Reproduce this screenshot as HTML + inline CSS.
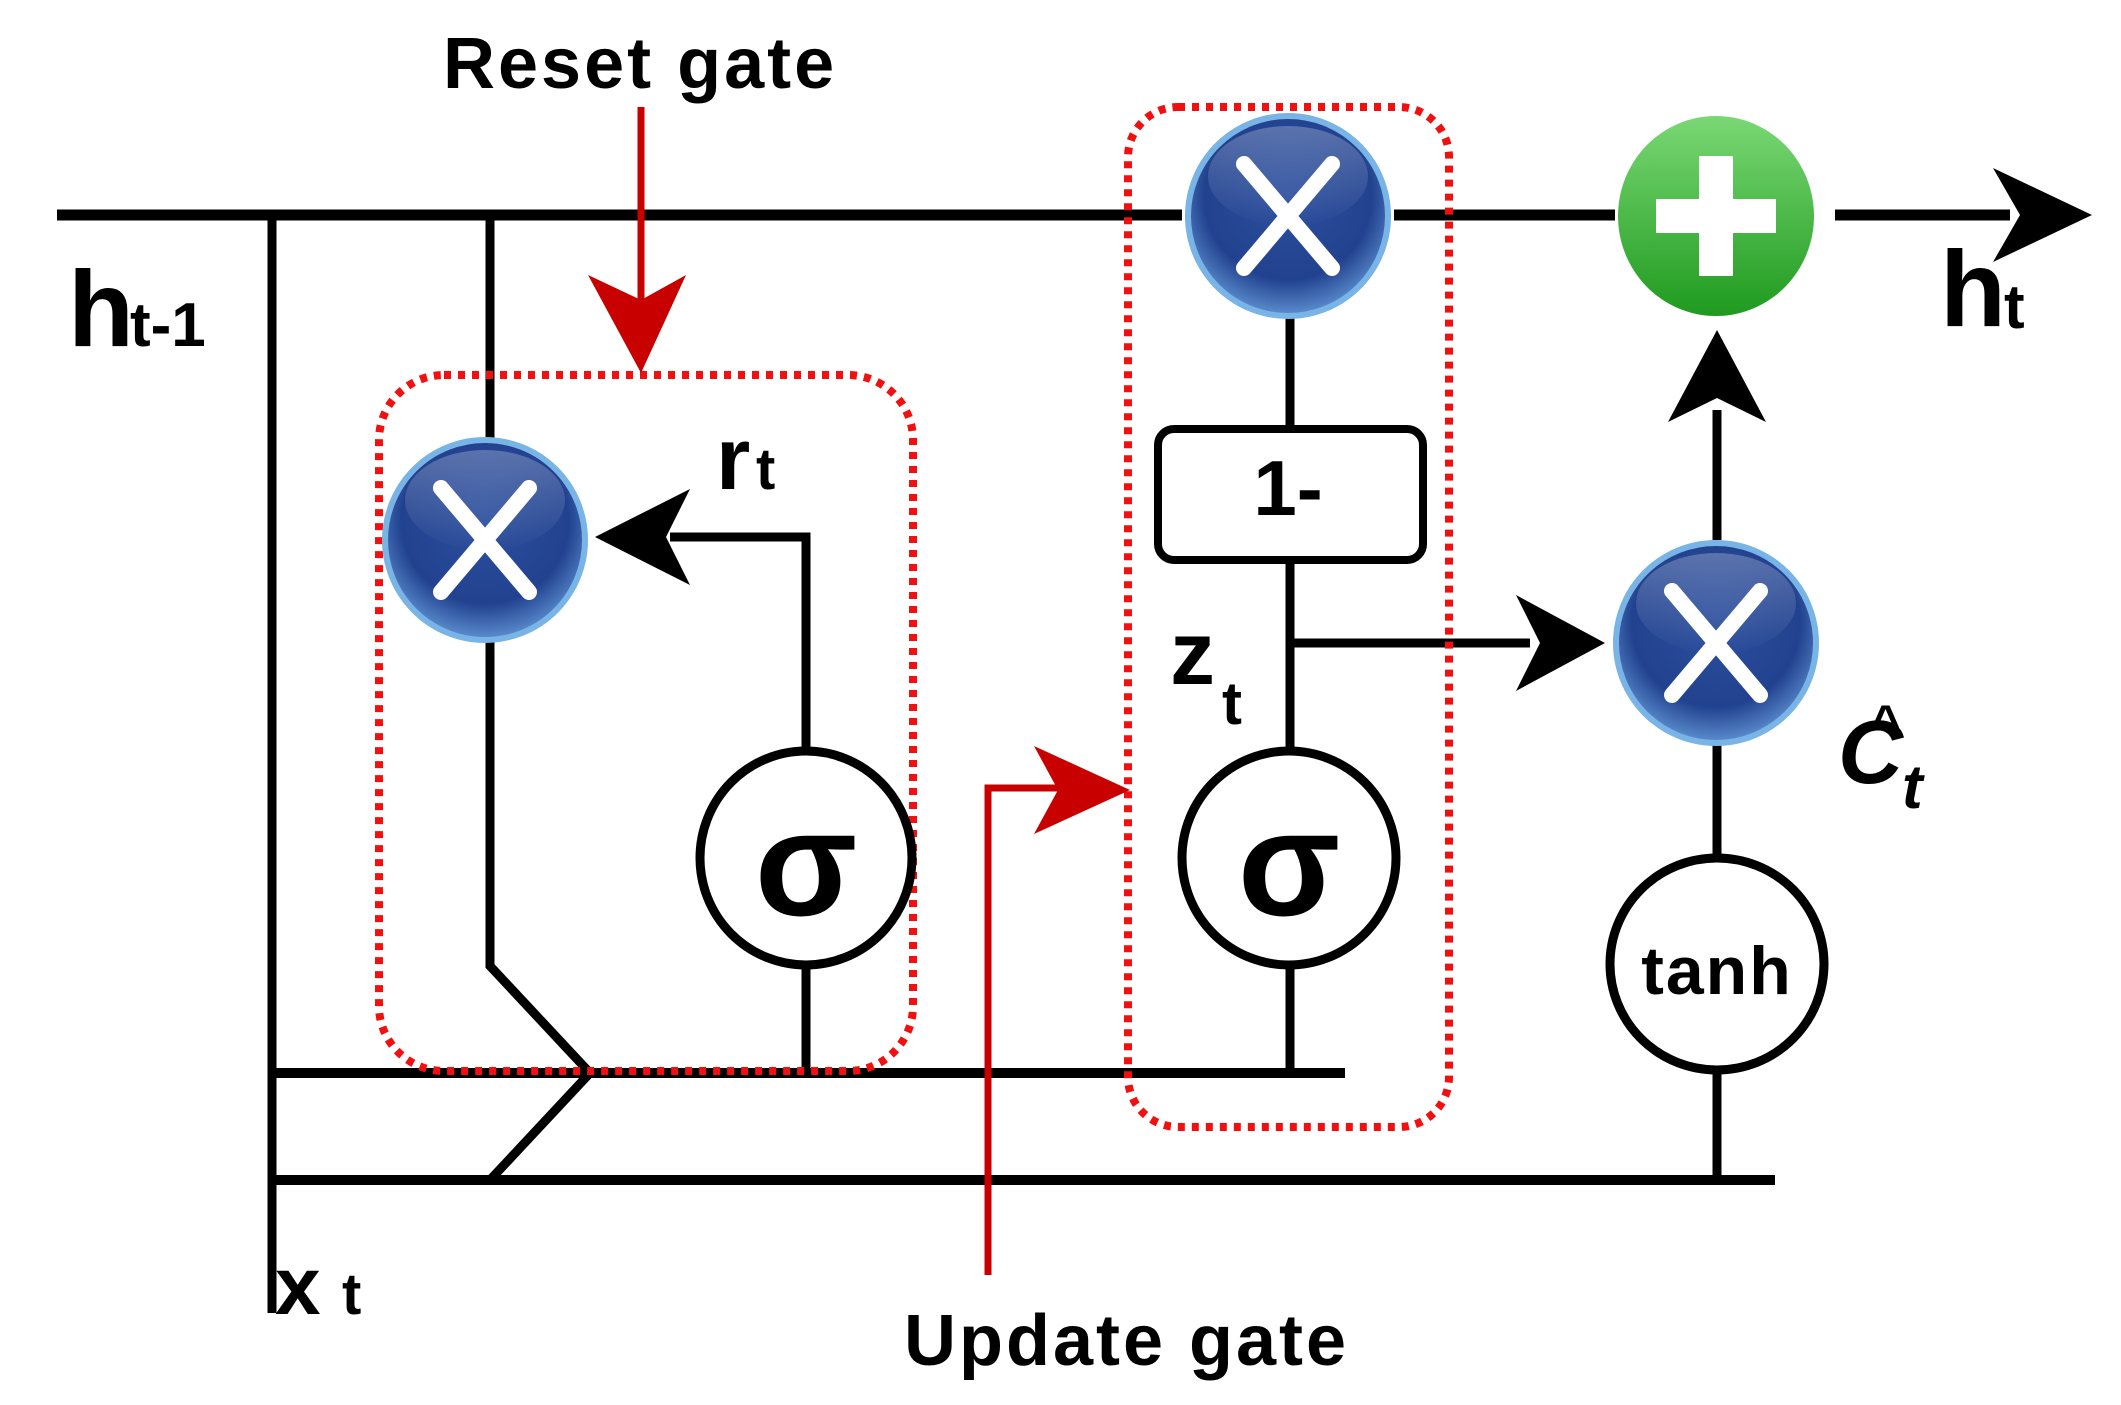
<!DOCTYPE html>
<html><head><meta charset="utf-8"><style>
html,body{margin:0;padding:0;background:#fff;}
svg{display:block;}
text{font-family:"Liberation Sans",Arial,sans-serif;font-weight:bold;fill:#000;}
</style></head><body>
<svg width="2121" height="1405" viewBox="0 0 2121 1405" xmlns="http://www.w3.org/2000/svg">
<defs>
<radialGradient id="blue" cx="50%" cy="40%" r="60%">
<stop offset="0" stop-color="#2c4f9e"/><stop offset="0.7" stop-color="#22428f"/><stop offset="1" stop-color="#5d8fd0"/>
</radialGradient>
<linearGradient id="shine" x1="0" y1="0" x2="0" y2="1">
<stop offset="0" stop-color="#fff" stop-opacity="0.25"/><stop offset="1" stop-color="#fff" stop-opacity="0"/>
</linearGradient>
<linearGradient id="green" x1="0" y1="0" x2="0" y2="1">
<stop offset="0" stop-color="#7ad874"/><stop offset="1" stop-color="#1f9a1f"/>
</linearGradient>
<g id="mul">
<ellipse cx="0" cy="0" rx="100" ry="100" fill="url(#blue)" stroke="#79b4e6" stroke-width="6"/>
<ellipse cx="0" cy="-40" rx="80" ry="50" fill="url(#shine)"/>
<path d="M-44,-52 L44,52 M44,-52 L-44,52" stroke="#fff" stroke-width="16" stroke-linecap="round"/>
</g>
</defs>

<g stroke="#000" fill="none" stroke-width="9">
<line x1="57" y1="215" x2="1182" y2="215" stroke-width="11"/>
<line x1="1394" y1="215" x2="1615" y2="215" stroke-width="11"/>
<line x1="1835" y1="215" x2="2010" y2="215" stroke-width="11"/>
<line x1="272" y1="215" x2="272" y2="1313"/>
<polyline points="490,215 490,440"/>
<polyline points="490,640 490,966 590,1073 490,1180"/>
<line x1="272" y1="1073" x2="1345" y2="1073" stroke-width="10"/>
<line x1="272" y1="1180" x2="1775" y2="1180" stroke-width="10"/>
<polyline points="806,750 806,537 670,537"/>
<line x1="806" y1="967" x2="806" y2="1073"/>
<line x1="1290" y1="316" x2="1290" y2="430"/>
<line x1="1290" y1="560" x2="1290" y2="750"/>
<line x1="1290" y1="643" x2="1530" y2="643"/>
<line x1="1290" y1="967" x2="1290" y2="1073"/>
<line x1="1717" y1="745" x2="1717" y2="855"/>
<line x1="1717" y1="1073" x2="1717" y2="1180"/>
<line x1="1717" y1="540" x2="1717" y2="410"/>
</g>

<polygon points="595,537 690,489 666,537 690,585" fill="#000"/>
<polygon points="2092,215 1993,168 2020,215 1993,262" fill="#000"/>
<polygon points="1717,330 1668,422 1717,398 1766,422" fill="#000"/>
<polygon points="1605,643 1516,595 1540,643 1516,691" fill="#000"/>

<rect x="379" y="375" width="534" height="696" rx="65" fill="none" stroke="#f01010" stroke-width="8" stroke-dasharray="7 7"/>
<rect x="1128" y="107" width="321" height="1020" rx="50" fill="none" stroke="#f01010" stroke-width="8" stroke-dasharray="7 7"/>

<line x1="641" y1="107" x2="641" y2="300" stroke="#c80000" stroke-width="7"/>
<polygon points="641,373 588,275 641,300 686,275" fill="#c80000"/>
<polyline points="988,1275 988,788 1060,788" fill="none" stroke="#c80000" stroke-width="7"/>
<polygon points="1130,790 1034,746 1058,790 1034,834" fill="#c80000"/>

<use href="#mul" x="485" y="540"/>
<use href="#mul" x="1288" y="216"/>
<use href="#mul" x="1716" y="643"/>
<ellipse cx="1716" cy="216" rx="98" ry="100" fill="url(#green)"/>
<rect x="1656" y="199" width="120" height="34" fill="#fff"/>
<rect x="1699" y="156" width="34" height="120" fill="#fff"/>

<ellipse cx="806" cy="858" rx="106" ry="107" fill="#fff" stroke="#000" stroke-width="9"/>
<ellipse cx="1289" cy="858" rx="107" ry="107" fill="#fff" stroke="#000" stroke-width="9"/>
<ellipse cx="1717" cy="964" rx="107" ry="106" fill="#fff" stroke="#000" stroke-width="9"/>
<rect x="1158" y="429" width="265" height="131" rx="16" fill="#fff" stroke="#000" stroke-width="8"/>

<text x="443" y="88" font-size="72" letter-spacing="3">Reset gate</text>
<text x="904" y="1365" font-size="72" letter-spacing="3">Update gate</text>
<text x="68" y="346" font-size="108">h</text>
<text x="130" y="346" font-size="62">t-1</text>
<text x="1940" y="326" font-size="108">h</text>
<text x="2004" y="328" font-size="62">t</text>
<text x="716" y="489" font-size="88">r</text>
<text x="756" y="489" font-size="58">t</text>
<text x="275" y="1314" font-size="82">x</text>
<text x="342" y="1314" font-size="58">t</text>
<text x="1170" y="684" font-size="90">z</text>
<text x="1222" y="724" font-size="60">t</text>
<text x="1838" y="783" font-size="90" font-style="italic">C</text>
<text x="1870" y="740" font-size="50" font-style="italic">^</text>
<text x="1902" y="808" font-size="62" font-style="italic">t</text>
<text x="1288" y="515" font-size="78" text-anchor="middle">1-</text>
<text x="806" y="915" font-size="150" text-anchor="middle">σ</text>
<text x="1289" y="915" font-size="150" text-anchor="middle">σ</text>
<text x="1717" y="994" font-size="68" text-anchor="middle" letter-spacing="2">tanh</text>
</svg>
</body></html>
